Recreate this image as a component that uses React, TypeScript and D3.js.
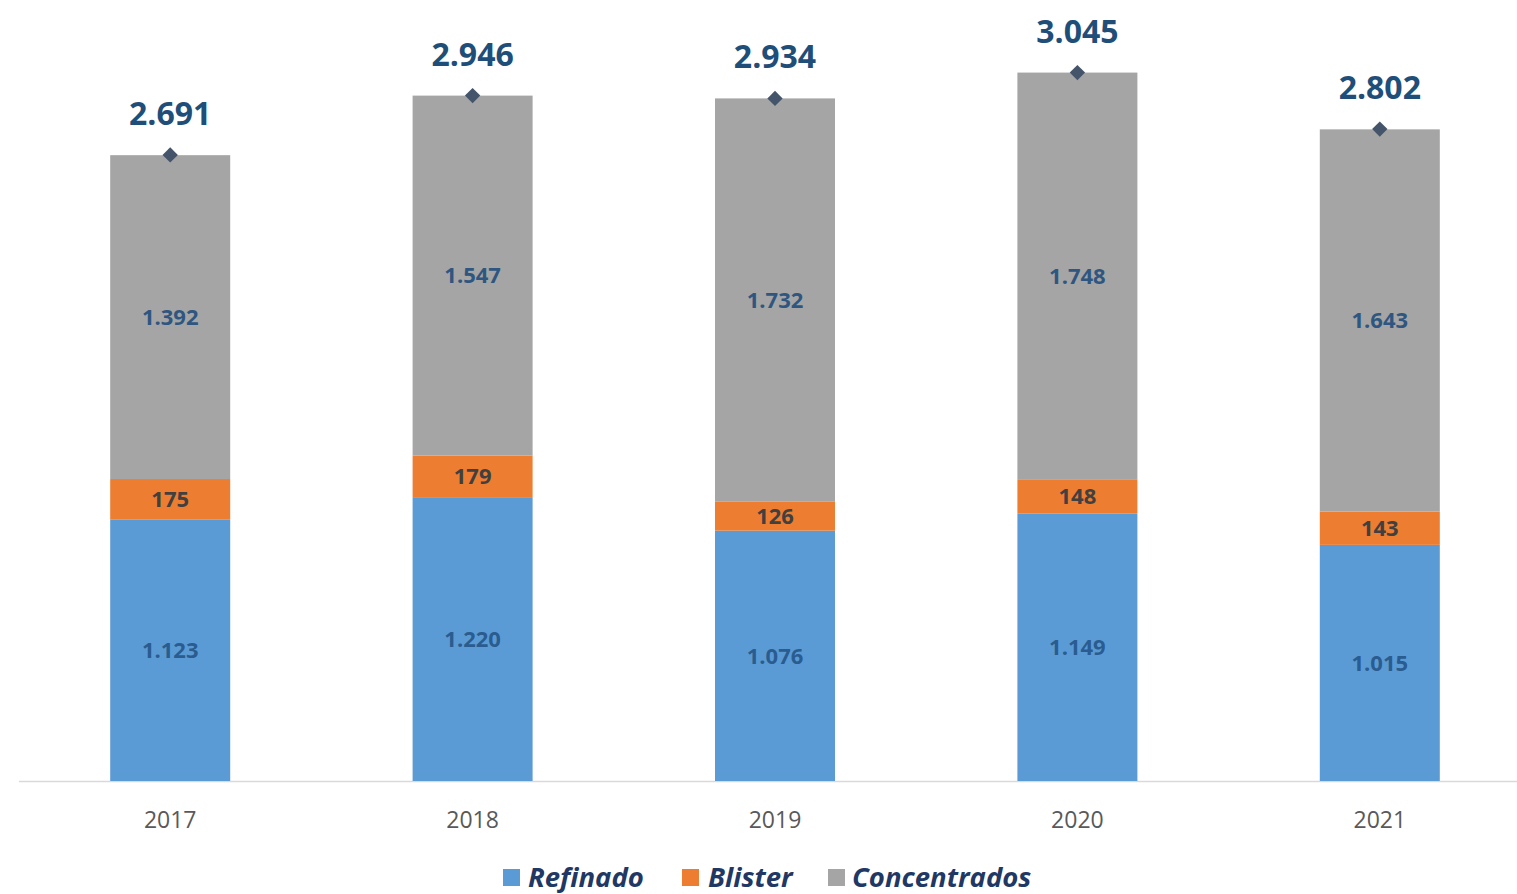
import React from "react";
import * as d3 from "d3";

const years = ["2017", "2018", "2019", "2020", "2021"];
const refinado = [1123, 1220, 1076, 1149, 1015];
const blister = [175, 179, 126, 148, 143];
const concentrados = [1392, 1547, 1732, 1748, 1643];
const totals = [2691, 2946, 2934, 3045, 2802];
const seriesNames = ["Refinado", "Blister", "Concentrados"];
const seriesColors = ["#5B9BD5", "#ED7D31", "#A5A5A5"];
const labelColors = ["#2A5C8F", "#404040", "#2F5680"];

const W = 1517;
const H = 894;
const FONT = "'Open Sans', sans-serif";

const locale = d3.formatLocale({ decimal: ",", thousands: ".", grouping: [3], currency: ["", ""] });
const fmt = locale.format(",d");

export default function App() {
  const x = d3.scalePoint<string>().domain(years).range([19, 1531]).padding(0.5);
  const y = d3.scaleLinear().domain([0, 3357]).range([781, 0]);
  const barW = 120;

  const rows = years.map((yr, i) => ({
    year: yr,
    Refinado: refinado[i],
    Blister: blister[i],
    Concentrados: concentrados[i],
  }));
  const stack = d3.stack<any>().keys(seriesNames)(rows);

  const legendItems = [
    { name: "Refinado", sx: 503, tx: 528 },
    { name: "Blister", sx: 682, tx: 708 },
    { name: "Concentrados", sx: 828, tx: 852 },
  ];

  return (
    <svg width={W} height={H} style={{ position: "absolute", left: 0, top: 0, background: "#fff" }} fontFamily={FONT}>
      <line x1={19} x2={1517} y1={y(0) + 0.5} y2={y(0) + 0.5} stroke="#D9D9D9" strokeWidth={1.5} />
      {stack.map((layer, si) => (
        <g key={layer.key}>
          {layer.map((d, i) => (
            <g key={i}>
              <rect
                x={(x(years[i]) as number) - barW / 2}
                y={y(d[1])}
                width={barW}
                height={y(d[0]) - y(d[1])}
                fill={seriesColors[si]}
              />
              <text
                x={x(years[i]) as number}
                y={(y(d[0]) + y(d[1])) / 2}
                dy="0.35em"
                textAnchor="middle"
                fontSize={22}
                fontWeight={700}
                fill={labelColors[si]}
              >
                {fmt(d[1] - d[0])}
              </text>
            </g>
          ))}
        </g>
      ))}
      {totals.map((t, i) => {
        const cx = x(years[i]) as number;
        const cy = y(t);
        return (
          <g key={i}>
            <path d={d3.symbol().type(d3.symbolDiamond2).size(150)() as string} transform={`translate(${cx},${cy})`} fill="#44546A" />
            <text x={cx} y={cy - 30} textAnchor="middle" fontSize={32} fontWeight={700} fill="#1F4E79">
              {fmt(t)}
            </text>
          </g>
        );
      })}
      {years.map((yr) => (
        <text key={yr} x={x(yr) as number} y={828} textAnchor="middle" fontSize={23} fill="#595959">
          {yr}
        </text>
      ))}
      {legendItems.map((it, i) => (
        <g key={it.name}>
          <rect x={it.sx} y={869} width={17} height={17} fill={seriesColors[i]} />
          <text x={it.tx} y={887} fontSize={27.5} fontWeight={700} fontStyle="italic" fill="#1F3864">
            {it.name}
          </text>
        </g>
      ))}
    </svg>
  );
}
